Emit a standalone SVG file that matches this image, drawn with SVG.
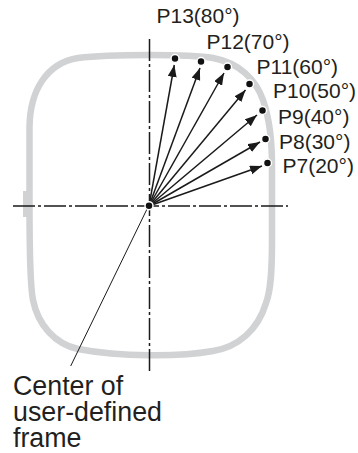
<svg xmlns="http://www.w3.org/2000/svg" width="358" height="453" viewBox="0 0 358 453">
<defs>
<marker id="ah" markerUnits="userSpaceOnUse" markerWidth="14" markerHeight="10" refX="12" refY="4.500" orient="auto"><path d="M0 0L12 4.500L0 9Z" fill="#1a1a1a"/></marker>
</defs>
<style>
.t{font-family:"Liberation Sans",Arial,sans-serif;font-size:21px;fill:#231f20}
.c{font-family:"Liberation Sans",Arial,sans-serif;font-size:26.800px;fill:#231f20}
.a{stroke:#1a1a1a;stroke-width:1.500;fill:none;marker-end:url(#ah)}
.d{fill:#111;stroke:#fff;stroke-width:1.500}
.x{stroke:#1a1a1a;stroke-width:1.500;stroke-dasharray:22 3 3 3;fill:none}
</style>
<g id="frame"><path d="M29.500 205L29.500 127C30 90 47 63 78 58C110 54 190 54 213 58C240 63 256 80 263 100C270 120 272 140 272 165L272 240C272 270 271 290 266 303C258 330 238 347 213 351C180 357 120 357 78 349C55 344 38 325 33 300C30 285 29.500 250 29.500 205Z" fill="none" stroke="#d1d2d4" stroke-width="6.500"/>
<rect x="23" y="191" width="4" height="26" fill="#d1d2d4"/></g>
<g id="connectors">
<path class="x" d="M13 206H288"/>
<path class="x" d="M149.500 39V372"/>
<path class="a" d="M149 206L174.300 65"/>
<path class="a" d="M149 206L200 68"/>
<path class="a" d="M149 206L224 73"/>
<path class="a" d="M149 206L245.500 90"/>
<path class="a" d="M149 206L257 115"/>
<path class="a" d="M149 206L260 142"/>
<path class="a" d="M149 206L262 166"/>
<path d="M148 207L70.700 366" stroke="#1a1a1a" stroke-width="1" fill="none"/>
</g>
<g id="center"><circle class="d" cx="149" cy="205.700" r="4"/></g>
<g id="p13"><circle class="d" cx="175" cy="58.500" r="4"/><text class="t" x="156.500" y="23">P13(80°)</text></g>
<g id="p12"><circle class="d" cx="201" cy="61.500" r="4"/><text class="t" x="206.500" y="49">P12(70°)</text></g>
<g id="p11"><circle class="d" cx="227.500" cy="67" r="4"/><text class="t" x="256.500" y="74">P11(60°)</text></g>
<g id="p10"><circle class="d" cx="249.500" cy="84" r="4"/><text class="t" x="273" y="98">P10(50°)</text></g>
<g id="p9"><circle class="d" cx="262.500" cy="110.500" r="4"/><text class="t" x="278" y="124">P9(40°)</text></g>
<g id="p8"><circle class="d" cx="265.500" cy="139" r="4"/><text class="t" x="279" y="149">P8(30°)</text></g>
<g id="p7"><circle class="d" cx="267.500" cy="163" r="4"/><text class="t" x="282.500" y="173">P7(20°)</text></g>
<g id="label"><text class="c" x="13" y="395">Center of<tspan x="13" y="421">user-defined</tspan><tspan x="13" y="447">frame</tspan></text></g>
</svg>
